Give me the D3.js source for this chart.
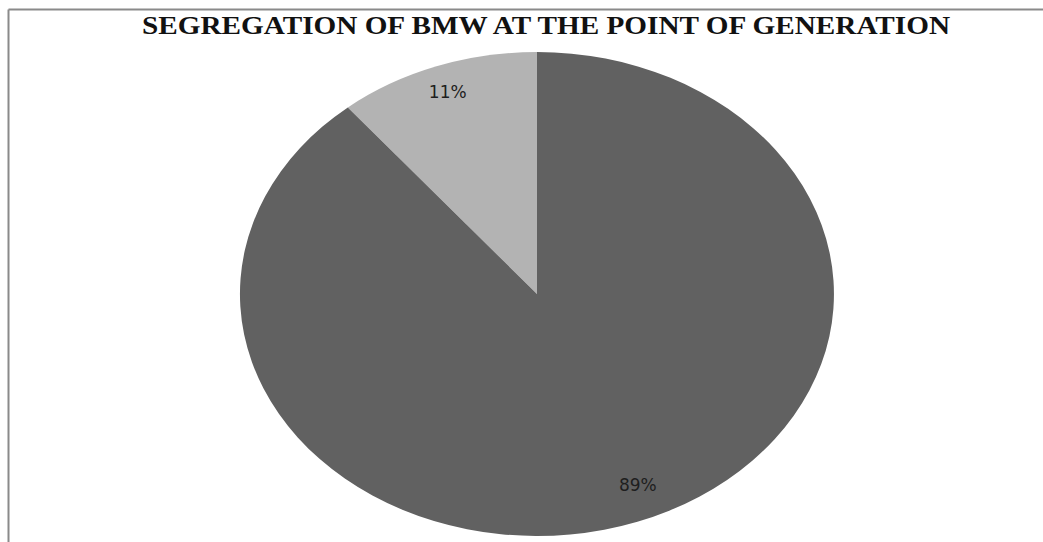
<!DOCTYPE html>
<html>
<head>
<meta charset="utf-8">
<script src="https://cdn.jsdelivr.net/npm/d3@7"></script>
<style>
  html, body { margin: 0; padding: 0; background: #fff; }
  svg { display: block; }
</style>
</head>
<body>
<svg id="chart" width="1043" height="542"></svg>
<script>
// Share of biomedical waste segregated at the point of generation
const categories = ["Not segregated", "Segregated"];
const values = [11, 89];
const labels = ["11%", "89%"];
const colors = ["#b3b3b3", "#616161"];

const svg = d3.select("#chart");
const W = 1043, H = 542;

// chart frame (top and left edges)
svg.append("line").attr("x1", 8.5).attr("y1", 9.5).attr("x2", W).attr("y2", 9.5)
  .attr("stroke", "#8a8a8a").attr("stroke-width", 2);
svg.append("line").attr("x1", 8.5).attr("y1", 9.5).attr("x2", 8.5).attr("y2", H)
  .attr("stroke", "#8a8a8a").attr("stroke-width", 2);

// title
svg.append("text")
  .attr("x", 142).attr("y", 34)
  .attr("textLength", 808).attr("lengthAdjust", "spacingAndGlyphs")
  .attr("font-family", "'Liberation Serif', 'Times New Roman', serif")
  .attr("font-weight", "bold").attr("font-size", 25)
  .attr("fill", "#111")
  .text("SEGREGATION OF BMW AT THE POINT OF GENERATION");

// pie drawn on a unit circle, then stretched into an ellipse
const cx = 537, cy = 294, rx = 297, ry = 242;
const data = categories.map((c, i) => ({ name: c, value: values[i], label: labels[i], color: colors[i] }));

const total = d3.sum(values);
const start = -2 * Math.PI * values[0] / total;
const pie = d3.pie().value(d => d.value).sort(null)
  .startAngle(start).endAngle(start + 2 * Math.PI);
const arcs = pie(data);
const arc = d3.arc().innerRadius(0).outerRadius(1);

const g = svg.append("g").attr("transform", `translate(${cx},${cy}) scale(${rx},${ry})`);
g.selectAll("path").data(arcs).join("path")
  .attr("d", arc)
  .attr("fill", d => d.data.color);

// value labels: radial distance and angular nudge per slice
const labelRadius = [0.887, 0.86];
const labelShift = [0, -0.06];
function labelXY(d, i) {
  const a = (d.startAngle + d.endAngle) / 2 + labelShift[i];
  const r = labelRadius[i];
  return [cx + Math.sin(a) * r * rx, cy - Math.cos(a) * r * ry];
}
svg.selectAll("text.lbl").data(arcs).join("text")
  .attr("class", "lbl")
  .attr("x", (d, i) => labelXY(d, i)[0])
  .attr("y", (d, i) => labelXY(d, i)[1])
  .attr("text-anchor", "middle").attr("dominant-baseline", "central")
  .attr("font-family", "'DejaVu Sans', Verdana, sans-serif")
  .attr("font-size", 17)
  .attr("fill", "#1e1e1e")
  .text(d => d.data.label);
</script>
</body>
</html>
